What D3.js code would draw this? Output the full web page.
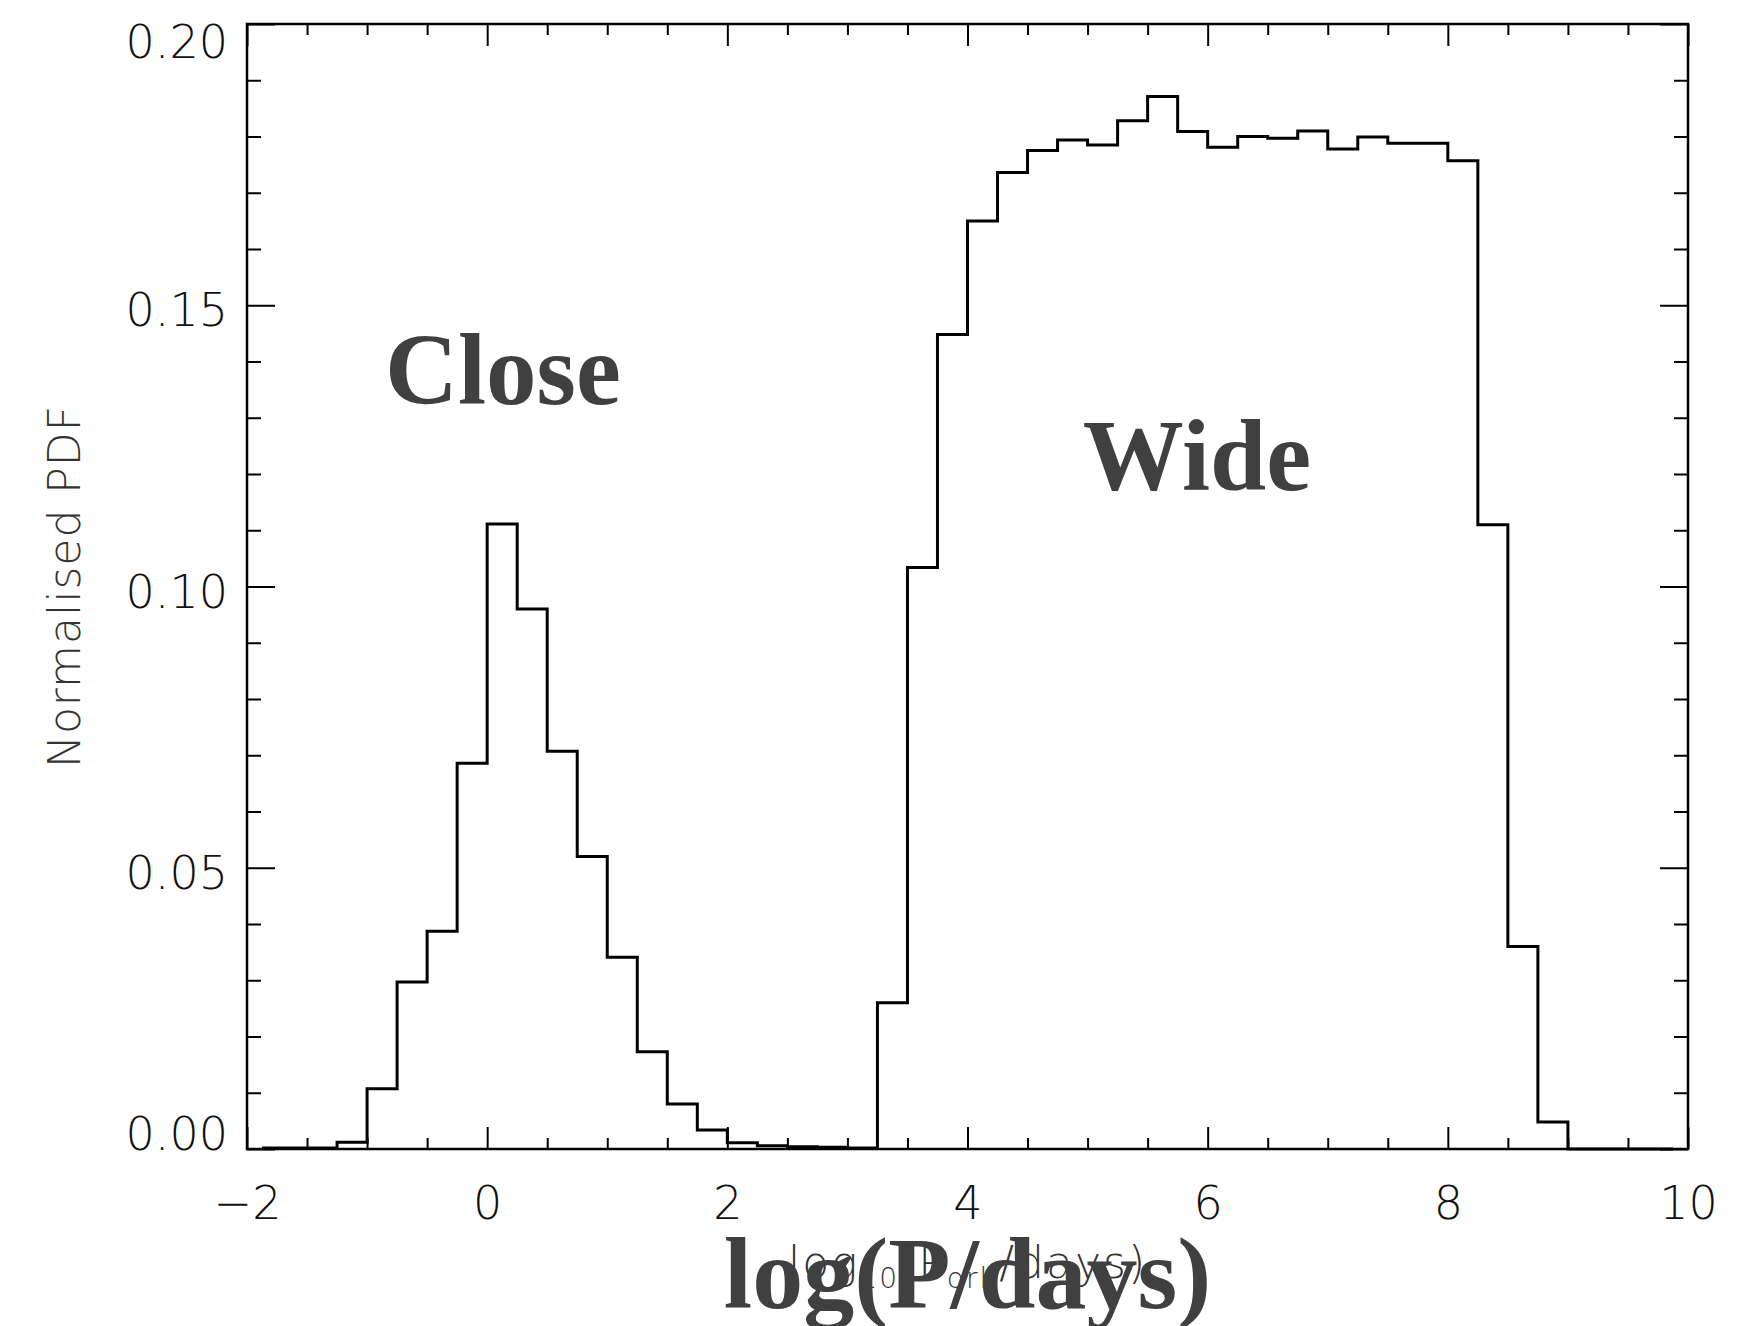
<!DOCTYPE html>
<html>
<head>
<meta charset="utf-8">
<script src="https://cdn.jsdelivr.net/npm/d3@7"></script>
<style>
  body { margin: 0; background: #fff; }
  .tick text { font-family: 'DejaVu Sans', sans-serif; font-weight: 200; font-size: 46px; fill: #111; }
</style>
</head>
<body>
<svg width="1763" height="1326"></svg>
<script>
// bin centres in log(P/days), 0.25 wide
const binCentres = [
  -1.875, -1.625, -1.375, -1.125, -0.875, -0.625, -0.375, -0.125,
  0.125, 0.375, 0.625, 0.875, 1.125, 1.375, 1.625, 1.875,
  2.125, 2.375, 2.625, 2.875, 3.125, 3.375, 3.625, 3.875,
  4.125, 4.375, 4.625, 4.875, 5.125, 5.375, 5.625, 5.875,
  6.125, 6.375, 6.625, 6.875, 7.125, 7.375, 7.625, 7.875,
  8.125, 8.375, 8.625, 8.875, 9.125, 9.375, 9.625, 9.875
]
const pdf = [
  0.0002, 0.0002, 0.0002, 0.0012, 0.0107, 0.0297, 0.0387, 0.0686,
  0.1111, 0.0960, 0.0707, 0.0520, 0.0341, 0.0173, 0.0080, 0.0034,
  0.0011, 0.0006, 0.0004, 0.0003, 0.0002, 0.0260, 0.1034, 0.1448,
  0.1650, 0.1736, 0.1775, 0.1794, 0.1785, 0.1828, 0.1871, 0.1809,
  0.1781, 0.1800, 0.1797, 0.1810, 0.1778, 0.1799, 0.1788, 0.1788,
  0.1757, 0.1110, 0.0360, 0.0048, 0, 0, 0, 0
]
const xMajor = [-2, 0, 2, 4, 6, 8, 10]
const xMinor = [-1.5, -1, -0.5, 0.5, 1, 1.5, 2.5, 3, 3.5, 4.5, 5, 5.5, 6.5, 7, 7.5, 8.5, 9, 9.5]
const yMajor = [0, 0.05, 0.10, 0.15, 0.20]
const yMinor = [0.01, 0.02, 0.03, 0.04, 0.06, 0.07, 0.08, 0.09, 0.11, 0.12, 0.13, 0.14, 0.16, 0.17, 0.18, 0.19]
const labels = [
  { text: 'Close', x: -0.85, y: 0.1325 },
  { text: 'Wide', x: 4.96, y: 0.1172 }
]

const svg = d3.select('svg')
const width = +svg.attr('width'),
      height = +svg.attr('height'),
      margin = { top: 24, right: 75, bottom: 177, left: 247 },
      w = width - margin.left - margin.right,
      h = height - margin.top - margin.bottom

svg.append('rect').attr('width', width).attr('height', height).attr('fill', '#fff')

const x = d3.scaleLinear().domain([-2, 10]).range([0, w])
const y = d3.scaleLinear().domain([0, 0.2]).range([h, 0])

const g = svg.append('g').attr('transform', `translate(${margin.left},${margin.top})`)

// histogram, IDL psym=10 style
const line = d3.line()
    .x((d, i) => x(binCentres[i]))
    .y(d => y(d))
    .curve(d3.curveStep)
g.append('path')
    .datum(pdf)
    .attr('d', line)
    .attr('fill', 'none')
    .attr('stroke', '#000')
    .attr('stroke-width', 3)

// ticks on all sides, pointing inward
const tickStyle = sel => {
    sel.select('.domain').remove()
    sel.selectAll('.tick line').attr('stroke', '#000').attr('stroke-width', 2)
}
g.append('g').attr('transform', `translate(0,${h})`)
    .call(d3.axisBottom(x).tickValues(xMajor).tickSize(-22).tickPadding(37).tickFormat(d3.format('d')))
    .call(tickStyle)
g.append('g').attr('transform', `translate(0,${h})`)
    .call(d3.axisBottom(x).tickValues(xMinor).tickSize(-11).tickFormat(''))
    .call(tickStyle)
g.append('g')
    .call(d3.axisTop(x).tickValues(xMajor).tickSize(-22).tickFormat(''))
    .call(tickStyle)
g.append('g')
    .call(d3.axisTop(x).tickValues(xMinor).tickSize(-11).tickFormat(''))
    .call(tickStyle)

g.append('g')
    .call(d3.axisLeft(y).tickValues(yMajor).tickSize(-28).tickPadding(19).tickFormat(d3.format('.2f')))
    .call(tickStyle)
    .selectAll('.tick text')
    .attr('dy', d => d === 0.2 ? '0.73em' : d === 0 ? '0em' : '0.45em')
g.append('g')
    .call(d3.axisLeft(y).tickValues(yMinor).tickSize(-14).tickFormat(''))
    .call(tickStyle)
g.append('g').attr('transform', `translate(${w},0)`)
    .call(d3.axisRight(y).tickValues(yMajor).tickSize(-28).tickFormat(''))
    .call(tickStyle)
g.append('g').attr('transform', `translate(${w},0)`)
    .call(d3.axisRight(y).tickValues(yMinor).tickSize(-14).tickFormat(''))
    .call(tickStyle)

g.append('rect')
    .attr('width', w).attr('height', h)
    .attr('fill', 'none').attr('stroke', '#000').attr('stroke-width', 2.5)

// Close / Wide annotations
g.selectAll('.ann').data(labels).join('text')
    .attr('x', d => x(d.x))
    .attr('y', d => y(d.y))
    .attr('font-family', "'Liberation Serif', serif")
    .attr('font-weight', 'bold')
    .attr('font-size', 101)
    .attr('fill', '#404040')
    .text(d => d.text)

// original y label
svg.append('text')
    .attr('transform', `translate(80,${margin.top + h / 2}) rotate(-90)`)
    .attr('text-anchor', 'middle')
    .attr('font-family', "'DejaVu Sans', sans-serif")
    .attr('font-weight', 200)
    .attr('font-size', 44)
    .attr('letter-spacing', 1)
    .attr('fill', '#333')
    .text('Normalised PDF')

// original faint x label
const xl = svg.append('text')
    .attr('x', margin.left + x(4.0))
    .attr('y', 1278)
    .attr('text-anchor', 'middle')
    .attr('font-family', "'DejaVu Sans', sans-serif")
    .attr('font-weight', 200)
    .attr('font-size', 44)
    .attr('letter-spacing', 2)
    .attr('fill', '#333')
xl.append('tspan').text('log')
xl.append('tspan').attr('font-size', 28).attr('dy', 10).text('10')
xl.append('tspan').attr('dy', -10).text('(P')
xl.append('tspan').attr('font-size', 28).attr('dy', 10).text('orb')
xl.append('tspan').attr('dy', -10).text('/days)')

// overlaid x label
svg.append('text')
    .attr('x', margin.left + x(4.0))
    .attr('y', 1308)
    .attr('text-anchor', 'middle')
    .attr('font-family', "'Liberation Serif', serif")
    .attr('font-weight', 'bold')
    .attr('font-size', 102)
    .attr('fill', '#404040')
    .text('log(P/days)')
</script>
</body>
</html>
